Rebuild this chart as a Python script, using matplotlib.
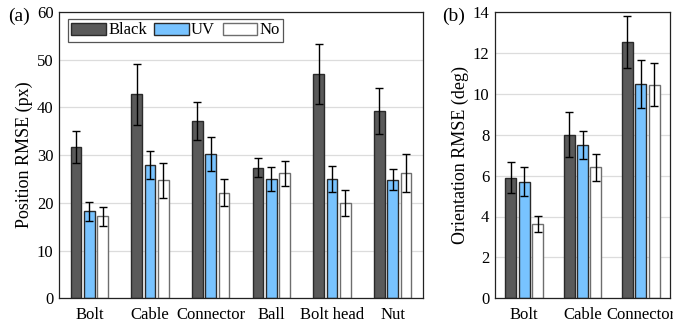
import numpy as np
import matplotlib.pyplot as plt
from matplotlib.patches import Patch

plt.rcParams['font.family'] = ['Liberation Serif', 'DejaVu Serif']

# ---- data ----
pos_cats = ["Bolt", "Cable", "Connector", "Ball", "Bolt head", "Nut"]
pos_black = [31.7, 42.8, 37.1, 27.4, 47.0, 39.3]
pos_black_err = [3.3, 6.4, 4.0, 2.0, 6.3, 4.8]
pos_uv = [18.2, 27.9, 30.3, 25.0, 25.0, 24.8]
pos_uv_err = [2.0, 2.9, 3.6, 2.5, 2.7, 2.2]
pos_no = [17.2, 24.7, 22.1, 26.2, 20.0, 26.3]
pos_no_err = [2.0, 3.6, 2.8, 2.6, 2.7, 4.0]

ori_cats = ["Bolt", "Cable", "Connector"]
ori_black = [5.9, 8.0, 12.55]
ori_black_err = [0.77, 1.1, 1.27]
ori_uv = [5.7, 7.5, 10.5]
ori_uv_err = [0.7, 0.67, 1.17]
ori_no = [3.63, 6.4, 10.45]
ori_no_err = [0.4, 0.68, 1.05]

series_names = ["Black", "UV", "No"]
fills = ["#5a5a5a", "#78c3ff", "#ffffff"]
edges = ["#2a2a2a", "#2a2a2a", "#6e6e6e"]

fig = plt.figure(figsize=(6.73, 3.22), dpi=100)
W, H = 673, 322
ax1 = fig.add_axes([59 / W, 1 - 298.3 / H, (423 - 59) / W, 286.3 / H])
ax2 = fig.add_axes([495 / W, 1 - 298.3 / H, (670 - 495) / W, 286.3 / H])


def draw(ax, cats, vals, errs, ymax, ystep, width, step):
    x = np.arange(len(cats))
    for i, (v, e) in enumerate(zip(vals, errs)):
        ax.bar(x + (i - 1) * step, v, width, color=fills[i], edgecolor=edges[i],
               linewidth=1.0, zorder=2, label=series_names[i])
        ax.errorbar(x + (i - 1) * step, v, yerr=e, fmt='none', ecolor='black',
                    elinewidth=1.0, capsize=2.6, capthick=1.0, zorder=3)
    ax.set_xlim(-0.5, len(cats) - 0.5)
    ax.set_ylim(0, ymax)
    ax.set_yticks(np.arange(0, ymax + 0.1, ystep))
    ax.set_xticks(x)
    ax.set_xticklabels(cats)
    ax.yaxis.grid(True, color='#dcdcdc', linewidth=0.9, zorder=0)
    ax.set_axisbelow(True)
    ax.tick_params(axis='y', length=0, labelsize=12, pad=4)
    ax.tick_params(axis='x', length=0, labelsize=12, pad=6)
    for s in ax.spines.values():
        s.set_linewidth(0.9)
        s.set_color('#222222')


draw(ax1, pos_cats, [pos_black, pos_uv, pos_no], [pos_black_err, pos_uv_err, pos_no_err],
     60, 10, 0.18, 0.22)
draw(ax2, ori_cats, [ori_black, ori_uv, ori_no], [ori_black_err, ori_uv_err, ori_no_err],
     14, 2, 0.19, 0.23)

ax1.set_ylabel("Position RMSE (px)", fontsize=13, labelpad=3)
ax2.set_ylabel("Orientation RMSE (deg)", fontsize=13, labelpad=3)

handles = [Patch(facecolor=fills[i], edgecolor=edges[i], linewidth=1.0, label=series_names[i])
           for i in range(3)]
leg = ax1.legend(handles=handles, loc='upper left', ncol=3, fontsize=12,
                 bbox_to_anchor=(0.025, 0.975), handlelength=2.05, handleheight=0.75,
                 handletextpad=0.15, columnspacing=0.45, borderpad=0.2,
                 fancybox=False, framealpha=1, edgecolor='#555555', borderaxespad=0)
leg.get_frame().set_linewidth(0.9)

fig.text(8 / W, 1 - 16 / H, "(a)", fontsize=14, va='center', ha='left')
fig.text(442 / W, 1 - 16 / H, "(b)", fontsize=14, va='center', ha='left')

fig.savefig("out.png", dpi=100)
